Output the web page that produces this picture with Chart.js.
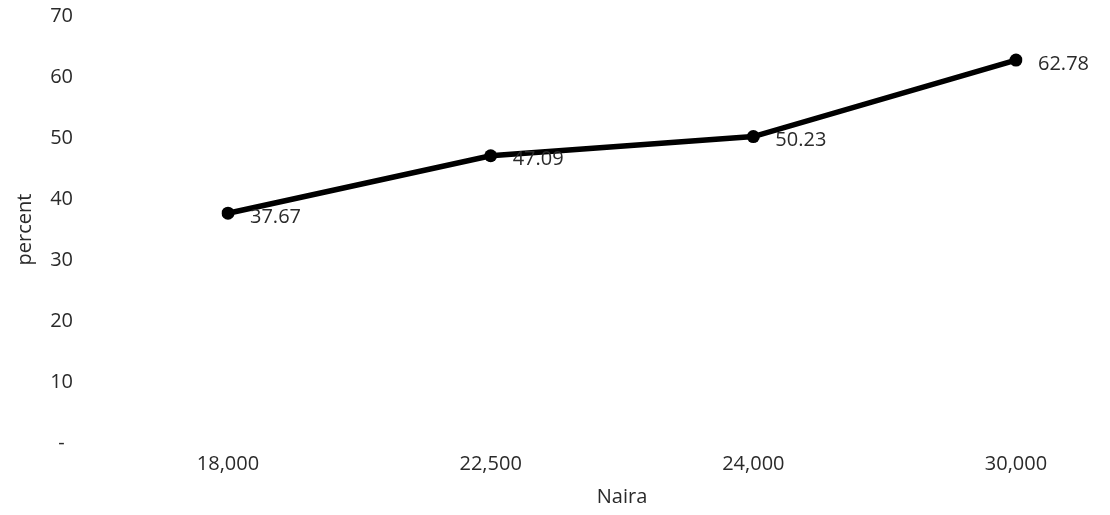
<!DOCTYPE html>
<html>
<head>
<meta charset="utf-8">
<script src="https://cdn.jsdelivr.net/npm/chart.js@4"></script>
<style>
  html, body { margin: 0; padding: 0; background: #fff; }
  #wrap { width: 1110px; height: 515px; }
</style>
</head>
<body>
<div id="wrap"><canvas id="LineChart"></canvas></div>
<script>
const naira_labels = ['18,000', '22,500', '24,000', '30,000']; // categories on X
const percent_values = [37.67, 47.09, 50.23, 62.78];          // series values
const y_ticks = [0, 10, 20, 30, 40, 50, 60, 70];               // tick labels on Y

const textColor = '#2a2a2a';
const fontFamily = '"Open Sans", Lato, sans-serif';
Chart.defaults.font.family = fontFamily;
Chart.defaults.font.size = 20;
Chart.defaults.color = textColor;

// value labels next to each point
const pointLabels = {
  id: 'pointLabels',
  afterDatasetsDraw(chart) {
    const ctx = chart.ctx;
    const meta = chart.getDatasetMeta(0);
    ctx.save();
    ctx.font = '20px ' + fontFamily;
    ctx.fillStyle = textColor;
    ctx.textAlign = 'left';
    ctx.textBaseline = 'middle';
    meta.data.forEach((pt, i) => {
      ctx.fillText(percent_values[i].toFixed(2), pt.x + 22, pt.y + 4);
    });
    ctx.restore();
  }
};

const data = {
  labels: naira_labels,
  datasets: [{
    data: percent_values,
    borderColor: '#000',
    backgroundColor: '#000',
    borderWidth: 5.5,
    pointRadius: 6.5,
    pointBackgroundColor: '#000',
    pointBorderWidth: 0,
    tension: 0,
    fill: false
  }]
};

const config = {
  type: 'line',
  data: data,
  options: {
    responsive: true,
    maintainAspectRatio: false,
    animation: false,
    layout: { padding: { top: 16, right: 94, left: 0, bottom: 6 } },
    plugins: {
      legend: { display: false },
      tooltip: { enabled: false }
    },
    scales: {
      x: {
        offset: false,
        grid: { display: false, drawTicks: false },
        border: { display: false },
        ticks: { padding: 9, maxRotation: 0 },
        title: { display: true, text: 'Naira', padding: { top: 0, bottom: 0 } }
      },
      y: {
        min: 0,
        max: 70,
        afterBuildTicks: (scale) => { scale.ticks = y_ticks.map(v => ({ value: v })); },
        afterFit: (scale) => {
          scale.width = 228;
          scale.paddingTop = 0;
          scale.paddingBottom = 0;
        },
        grid: { display: false, drawTicks: false },
        border: { display: false },
        ticks: {
          crossAlign: 'center',
          padding: 155,
          callback: (v) => v === 0 ? '-' : v
        },
        title: { display: true, text: 'percent', padding: { top: 13, bottom: 0 } }
      }
    }
  },
  plugins: [pointLabels]
};

new Chart(document.getElementById('LineChart'), config);
</script>
</body>
</html>
